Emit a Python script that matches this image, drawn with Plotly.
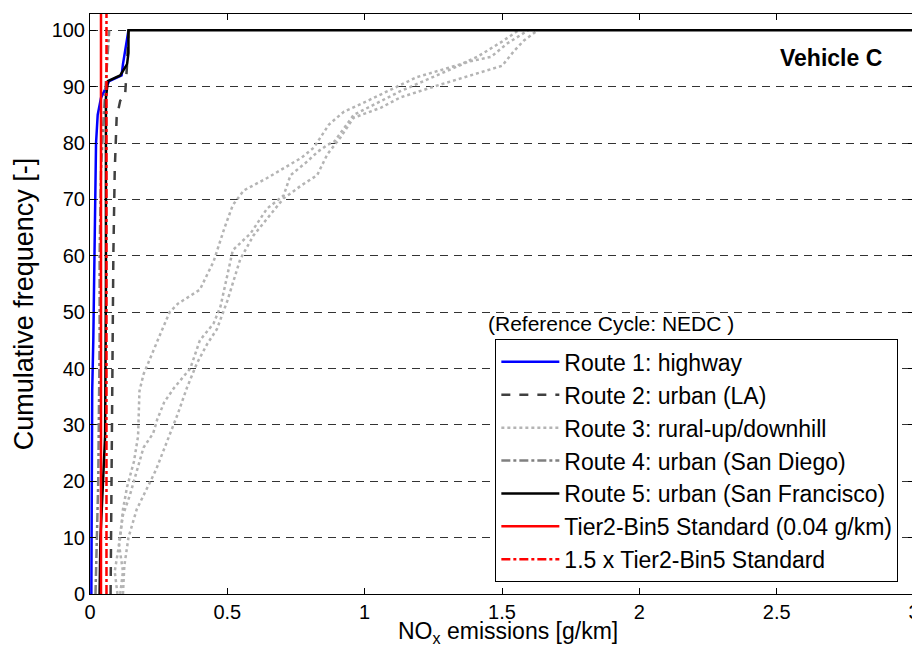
import plotly.graph_objects as go

# ---------------------------------
# Data
# ---------------------------------

route1_x = [0.005, 0.006, 0.008, 0.008, 0.012, 0.015, 0.018, 0.022, 0.028, 0.04, 0.07, 0.115, 0.12, 0.13, 0.14]
route1_y = [0, 10, 30, 36, 45, 58, 70, 80, 85, 88, 91, 92, 94, 97, 100]

route2_x = [0.075, 0.077, 0.08, 0.083, 0.085, 0.09, 0.097, 0.11, 0.128, 0.135, 0.14]
route2_y = [0, 15, 30, 45, 60, 75, 84.5, 87.5, 88.7, 94, 100]

route3a_x = [0.10, 0.09, 0.11, 0.12, 0.135, 0.16, 0.175, 0.18, 0.195, 0.22, 0.255, 0.29, 0.32, 0.40,
             0.45, 0.49, 0.52, 0.56, 0.645, 0.77, 0.815, 0.87, 0.925, 0.985, 1.06, 1.19, 1.35, 1.41, 1.50, 1.56]
route3a_y = [0, 4, 10, 15, 19, 23.5, 28, 36, 39, 42, 46, 50, 51.5, 54,
             59, 65, 69, 71.6, 73.8, 77.4, 79.2, 83.3, 85.6, 86.9, 88.7, 91.7, 94, 95.3, 98, 100]

route3b_x = [0.11, 0.12, 0.105, 0.12, 0.145, 0.17, 0.195, 0.23, 0.245, 0.27, 0.305, 0.365, 0.40, 0.45, 0.475,
             0.52, 0.585, 0.645, 0.705, 0.73, 0.79, 0.83, 0.865, 0.89, 0.96, 1.13, 1.375, 1.46, 1.52, 1.595]
route3b_y = [0, 4, 9, 14, 17.5, 22, 26, 28.5, 31, 34, 36.5, 40, 45, 48, 51,
             61, 64, 68.4, 70.7, 74.3, 76.7, 78.5, 79.7, 80.3, 85, 89.2, 94.4, 95.3, 97.7, 100]

route3c_x = [0.12, 0.125, 0.14, 0.17, 0.2, 0.24, 0.28, 0.32, 0.353, 0.39, 0.426, 0.462, 0.50, 0.547, 0.595,
             0.65, 0.705, 0.77, 0.827, 0.864, 0.912, 0.96, 1.06, 1.13, 1.277, 1.5, 1.545, 1.58, 1.63]
route3c_y = [0, 5, 10, 15, 18, 22, 27, 32, 36.6, 41, 44.3, 47, 52, 59.4, 63.6,
             67, 70.2, 72.5, 74.3, 78, 81, 84.5, 86.3, 88.1, 90.4, 93.7, 96.4, 98.2, 100]

route4_x = [0.02, 0.025, 0.03, 0.032, 0.035, 0.035, 0.04, 0.05, 0.06, 0.065, 0.07]
route4_y = [0, 10, 20, 30, 45, 60, 75, 85, 92, 96, 100]

route5_x = [0.035, 0.036, 0.038, 0.055, 0.057, 0.058, 0.058, 0.057, 0.058, 0.065, 0.11, 0.135, 0.14, 0.14, 3.0]
route5_y = [0, 5, 10, 28, 40, 55, 70, 80, 88, 91, 92, 94, 96, 100, 100]

standard = 0.04
standard_y = [0, 105]

x_ticks = [0, 0.5, 1, 1.5, 2, 2.5, 3]
x_tick_labels = ["0", "0.5", "1", "1.5", "2", "2.5", "3"]
y_ticks = list(range(0, 101, 10))

FONT = "Liberation Sans, Arial, sans-serif"

# ---------------------------------
# Build Figure
# ---------------------------------

fig = go.Figure()

fig.add_scatter(x=route1_x, y=route1_y, mode="lines", name="Route 1: highway",
                line=dict(color="#0000ff", width=2.5))
fig.add_scatter(x=route2_x, y=route2_y, mode="lines", name="Route 2: urban (LA)",
                line=dict(color="#404040", width=2.5, dash="dash"))
fig.add_scatter(x=route3a_x, y=route3a_y, mode="lines", name="Route 3: rural-up/downhill",
                line=dict(color="#b4b4b4", width=2.5, dash="dot"))
fig.add_scatter(x=route3b_x, y=route3b_y, mode="lines", showlegend=False,
                line=dict(color="#b4b4b4", width=2.5, dash="dot"))
fig.add_scatter(x=route3c_x, y=route3c_y, mode="lines", showlegend=False,
                line=dict(color="#b4b4b4", width=2.5, dash="dot"))
fig.add_scatter(x=route4_x, y=route4_y, mode="lines", name="Route 4: urban (San Diego)",
                line=dict(color="#808080", width=2.5, dash="dashdot"))
fig.add_scatter(x=route5_x, y=route5_y, mode="lines", name="Route 5: urban (San Francisco)",
                line=dict(color="#000000", width=2.5))
fig.add_scatter(x=[standard, standard], y=standard_y, mode="lines",
                name="Tier2-Bin5 Standard (0.04 g/km)",
                line=dict(color="#ff0000", width=2.5))
fig.add_scatter(x=[1.5 * standard, 1.5 * standard], y=standard_y, mode="lines",
                name="1.5 x Tier2-Bin5 Standard",
                line=dict(color="#ff0000", width=2.5, dash="dashdot"))

# ---------------------------------
# Annotations
# ---------------------------------

fig.add_annotation(x=2.89, y=95.1, xref="x", yref="y", text="<b>Vehicle C</b>",
                   showarrow=False, xanchor="right", yanchor="middle",
                   font=dict(family=FONT, size=23, color="black"))
fig.add_annotation(x=1.44, y=48, xref="x", yref="y", text="(Reference Cycle: NEDC )",
                   showarrow=False, xanchor="left", yanchor="middle",
                   font=dict(family=FONT, size=21, color="black"))

# x-axis title placed as an annotation so the subscript stays inside the page
fig.add_annotation(x=0.507, y=0, xref="paper", yref="paper", yshift=-38,
                   text="NO<sub>x</sub> emissions [g/km]",
                   showarrow=False, xanchor="center", yanchor="middle",
                   font=dict(family=FONT, size=23, color="black"))

# ---------------------------------
# Layout
# ---------------------------------

fig.update_layout(
    width=920,
    height=650,
    margin=dict(l=82, r=14, t=6, b=64),
    plot_bgcolor="white",
    paper_bgcolor="white",
    font=dict(family=FONT, size=20, color="black"),
    legend=dict(
        x=0.981, y=0.02, xanchor="right", yanchor="bottom",
        bgcolor="white", bordercolor="black", borderwidth=1,
        font=dict(family=FONT, size=23), itemwidth=58, tracegroupgap=0,
    ),
    showlegend=True,
)

fig.update_xaxes(
    range=[0, 3],
    tickvals=x_ticks,
    ticktext=x_tick_labels,
    ticks="inside",
    ticklen=6,
    tickcolor="black",
    showline=True,
    linecolor="black",
    linewidth=1,
    mirror="ticks",
    showgrid=False,
    zeroline=False,
)

fig.update_yaxes(
    range=[0, 102.9],
    tickvals=y_ticks,
    ticks="inside",
    ticklen=6,
    tickcolor="black",
    showline=True,
    linecolor="black",
    linewidth=1,
    mirror="ticks",
    showgrid=True,
    gridcolor="#333333",
    griddash="8px,6px",
    gridwidth=1,
    zeroline=False,
    title=dict(text="Cumulative frequency [-]", standoff=10,
               font=dict(family=FONT, size=27)),
)

fig.write_html("out.html")
